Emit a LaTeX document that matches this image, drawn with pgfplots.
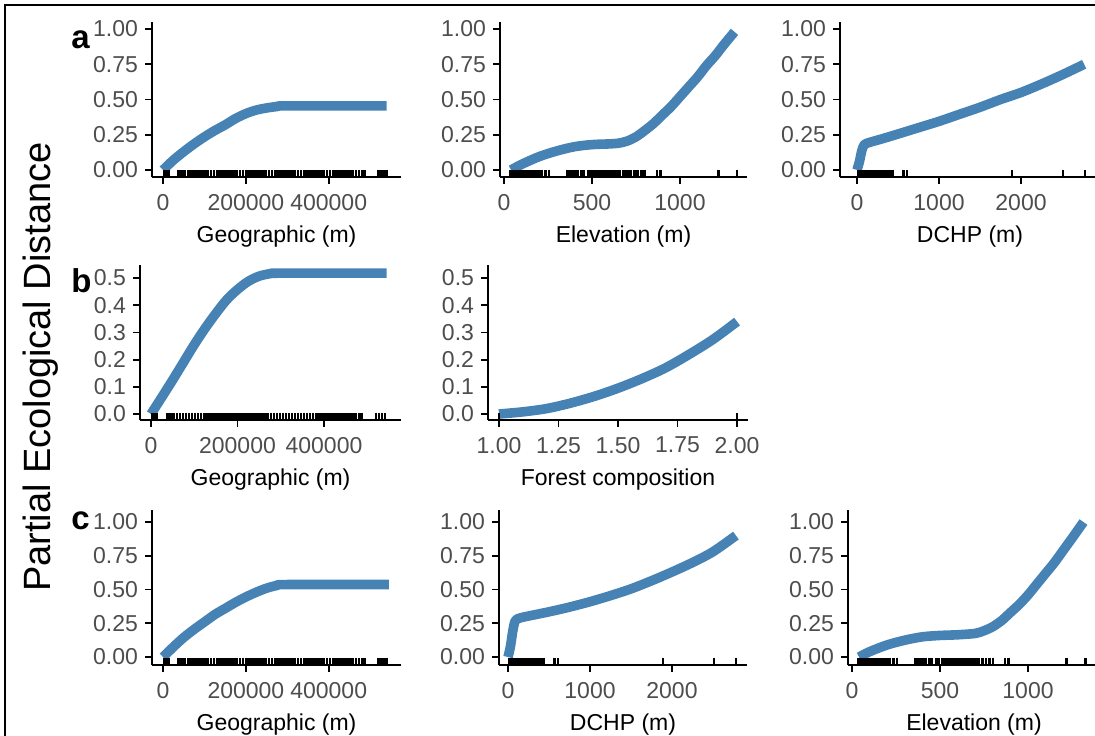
\documentclass[border=0pt]{standalone}
\usepackage{pgfplots}
\pgfplotsset{compat=1.18}
\usepackage{pgfplotstable}
\usepackage{fontspec}
\setmainfont{Liberation Sans}

\definecolor{steel}{RGB}{70,130,180}
\definecolor{tickgray}{RGB}{77,77,77}

% rug positions (second column unused)
\pgfplotstableread{
x n
2000 0
8000 0
14000 0
38000 0
45000 0
52000 0
60000 0
67000 0
74000 0
81000 0
88000 0
95000 0
102000 0
109000 0
116000 0
123000 0
130000 0
137000 0
144000 0
151000 0
158000 0
165000 0
172000 0
179000 0
186000 0
193000 0
200000 0
207000 0
214000 0
221000 0
228000 0
235000 0
242000 0
249000 0
256000 0
263000 0
270000 0
277000 0
284000 0
291000 0
298000 0
305000 0
312000 0
319000 0
326000 0
333000 0
340000 0
347000 0
354000 0
361000 0
368000 0
375000 0
382000 0
389000 0
396000 0
403000 0
410000 0
417000 0
424000 0
431000 0
438000 0
445000 0
452000 0
459000 0
466000 0
473000 0
482000 0
488000 0
520000 0
527000 0
534000 0
541000 0
}\ruggeo

\pgfplotstableread{
x n
35 0
45 0
55 0
65 0
80 0
95 0
110 0
125 0
140 0
155 0
170 0
185 0
200 0
215 0
235 0
255 0
360 0
375 0
390 0
405 0
420 0
440 0
455 0
480 0
495 0
510 0
525 0
540 0
555 0
570 0
585 0
600 0
615 0
630 0
645 0
660 0
675 0
690 0
705 0
720 0
740 0
760 0
780 0
800 0
870 0
890 0
1220 0
1325 0
}\rugelev

\pgfplotstableread{
x n
15 0
30 0
45 0
60 0
75 0
90 0
105 0
120 0
135 0
150 0
165 0
180 0
200 0
220 0
240 0
260 0
280 0
300 0
320 0
340 0
360 0
380 0
400 0
420 0
440 0
570 0
610 0
1890 0
2510 0
2780 0
}\rugdchp

\pgfplotsset{
  gdm/.style={
    scale only axis, anchor=south west,
    axis lines=left, axis line style={-, line width=1.1pt, black},
    tick align=outside, major tick length=3.5pt,
    tick style={line width=0.9pt, black},
    ticklabel style={font=\fontsize{11.5}{13}\selectfont, text=tickgray},
    xticklabel style={yshift=-1.5pt},
    xlabel style={font=\fontsize{11.5}{13}\selectfont, yshift=-0.8pt},
    scaled ticks=false, clip=false,
  },
  rowac/.style={ytick={0,0.25,0.5,0.75,1}, yticklabels={0.00,0.25,0.50,0.75,1.00}},
  rowb/.style={ytick={0,0.1,0.2,0.3,0.4,0.5}, yticklabels={0.0,0.1,0.2,0.3,0.4,0.5},
    ymin=-0.022, ymax=0.548},
  curve/.style={steel, line width=4.8pt, line cap=butt, line join=round, smooth, tension=0.5},
  rug/.style={only marks, mark=|, mark size=1.8pt, mark options={line width=1.3pt, black}},
}

\begin{document}
\begin{tikzpicture}
\path[use as bounding box] (0,0) rectangle (547.5pt,-367.5pt);
\clip (0,0) rectangle (547.5pt,-367.5pt);
\draw[line width=1pt] (2.5pt,-2.5pt) rectangle (600pt,-400pt);

\node[rotate=90, font=\fontsize{19}{22}\selectfont] at (20.5pt,-183.5pt) {Partial Ecological Distance};
\node[anchor=base west, font=\fontsize{16.5}{18}\selectfont\bfseries, inner sep=0pt] at (35.5pt,-24pt) {a};
\node[anchor=base west, font=\fontsize{16.5}{18}\selectfont\bfseries, inner sep=0pt] at (35.5pt,-146pt) {b};
\node[anchor=base west, font=\fontsize{16.5}{18}\selectfont\bfseries, inner sep=0pt] at (35.5pt,-264.5pt) {c};

% row a
\begin{axis}[gdm, rowac, at={(76pt,-88.5pt)}, width=124.5pt, height=77.5pt,
  xmin=-26667, xmax=574545, ymin=-0.05, ymax=1.05,
  xtick={0,200000,400000}, xticklabels={0,200000,400000}, xlabel={Geographic (m)}]
\addplot[rug] table[x=x, y expr=-0.0245] {\ruggeo};
\addplot[curve] coordinates {(0,0.00)(25000,0.07)(50000,0.13)(75000,0.185)(100000,0.235)
  (125000,0.28)(150000,0.32)(175000,0.365)(200000,0.40)(225000,0.425)(250000,0.44)
  (275000,0.45)(300000,0.455)(540000,0.455)};
\end{axis}

\begin{axis}[gdm, rowac, at={(250pt,-88.5pt)}, width=123.5pt, height=77.5pt,
  xmin=-23, xmax=1381, ymin=-0.05, ymax=1.05,
  xtick={0,500,1000}, xticklabels={0,500,1000}, xlabel={Elevation (m)}]
\addplot[rug] table[x=x, y expr=-0.0245] {\rugelev};
\addplot[curve] coordinates {(40,0.0)(100,0.04)(200,0.095)(300,0.135)(400,0.165)(500,0.18)
  (600,0.185)(650,0.19)(700,0.205)(750,0.235)(800,0.28)(850,0.33)(900,0.39)(950,0.45)
  (1000,0.52)(1050,0.59)(1100,0.66)(1150,0.74)(1200,0.81)(1250,0.89)(1310,0.98)};
\end{axis}

\begin{axis}[gdm, rowac, at={(420pt,-88.5pt)}, width=130pt, height=77.5pt,
  xmin=-207, xmax=2963, ymin=-0.05, ymax=1.05,
  xtick={0,1000,2000}, xticklabels={0,1000,2000}, xlabel={DCHP (m)}]
\addplot[rug] table[x=x, y expr=-0.0245] {\rugdchp};
\addplot[curve] coordinates {(0,0.0)(30,0.06)(60,0.14)(90,0.18)(150,0.195)(300,0.22)
  (500,0.255)(750,0.30)(1000,0.345)(1250,0.395)(1500,0.445)(1750,0.5)(2000,0.55)
  (2250,0.61)(2500,0.675)(2770,0.75)};
\end{axis}

% row b
\begin{axis}[gdm, rowb, at={(70pt,-210pt)}, width=130.5pt, height=77.5pt,
  xmin=-25434, xmax=578035,
  xtick={0,200000,400000}, xticklabels={0,200000,400000}, xlabel={Geographic (m)}]
\addplot[rug] table[x=x, y expr=-0.0088] {\ruggeo};
\addplot[curve] coordinates {(0,0.0)(25000,0.062)(50000,0.125)(75000,0.19)(100000,0.255)
  (125000,0.315)(150000,0.37)(175000,0.42)(200000,0.458)(225000,0.488)(250000,0.507)
  (275000,0.516)(300000,0.518)(545000,0.518)};
\end{axis}

\begin{axis}[gdm, rowb, at={(244pt,-210pt)}, width=130pt, height=77.5pt,
  xmin=0.9538, xmax=2.046,
  xtick={1,1.25,1.5,1.75,2}, xticklabels={1.00,1.25,1.50,1.75,2.00}, xlabel={Forest composition}]
\addplot[rug] coordinates {(1,-0.0088)(2,-0.0088)};
\addplot[curve] coordinates {(1.0,0.0)(1.1,0.008)(1.2,0.02)(1.3,0.04)(1.4,0.065)(1.5,0.095)
  (1.6,0.13)(1.7,0.17)(1.8,0.22)(1.9,0.275)(2.0,0.34)};
\end{axis}

% row c
\begin{axis}[gdm, rowac, at={(76pt,-332.5pt)}, width=124.5pt, height=77.5pt,
  xmin=-26667, xmax=574545, ymin=-0.059, ymax=1.089,
  xtick={0,200000,400000}, xticklabels={0,200000,400000}, xlabel={Geographic (m)}]
\addplot[rug] table[x=x, y expr=-0.032] {\ruggeo};
\addplot[curve] coordinates {(0,0.0)(25000,0.075)(50000,0.145)(75000,0.205)(100000,0.26)
  (125000,0.315)(150000,0.36)(175000,0.405)(200000,0.445)(225000,0.48)(250000,0.51)
  (275000,0.53)(300000,0.537)(545000,0.537)};
\end{axis}

\begin{axis}[gdm, rowac, at={(249.5pt,-332.5pt)}, width=124pt, height=77.5pt,
  xmin=-110, xmax=2915, ymin=-0.059, ymax=1.089,
  xtick={0,1000,2000}, xticklabels={0,1000,2000}, xlabel={DCHP (m)}]
\addplot[rug] table[x=x, y expr=-0.032] {\rugdchp};
\addplot[curve] coordinates {(0,0.0)(30,0.08)(60,0.2)(90,0.27)(150,0.29)(300,0.31)
  (500,0.335)(750,0.37)(1000,0.41)(1250,0.455)(1500,0.505)(1750,0.565)(2000,0.63)
  (2250,0.7)(2500,0.78)(2780,0.9)};
\end{axis}

\begin{axis}[gdm, rowac, at={(424pt,-332.5pt)}, width=126pt, height=77.5pt,
  xmin=-23, xmax=1409, ymin=-0.059, ymax=1.089,
  xtick={0,500,1000}, xticklabels={0,500,1000}, xlabel={Elevation (m)}]
\addplot[rug] table[x=x, y expr=-0.032] {\rugelev};
\addplot[curve] coordinates {(40,0.0)(100,0.04)(200,0.09)(300,0.125)(400,0.15)(500,0.16)
  (600,0.165)(700,0.175)(750,0.195)(800,0.225)(850,0.27)(900,0.33)(950,0.39)(1000,0.46)
  (1050,0.54)(1100,0.62)(1150,0.7)(1200,0.79)(1250,0.88)(1315,1.0)};
\end{axis}
\end{tikzpicture}
\end{document}
